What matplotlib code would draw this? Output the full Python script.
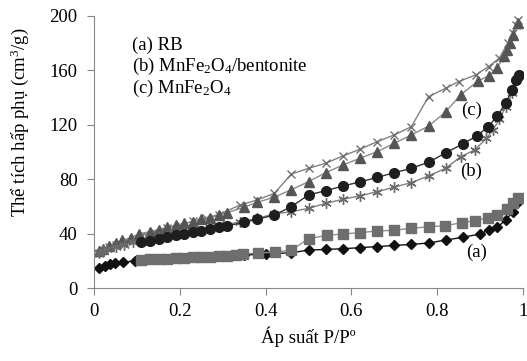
import matplotlib
matplotlib.use('Agg')
import matplotlib.pyplot as plt

plt.rcParams['font.family'] = ['Liberation Serif', 'DejaVu Serif']
plt.rcParams['mathtext.fontset'] = 'custom'
plt.rcParams['mathtext.rm'] = 'Liberation Serif'
plt.rcParams['mathtext.default'] = 'regular'

# (a) RB - adsorption (diamonds) / desorption (squares)
a_ads_p = [0.01, 0.025, 0.036, 0.048, 0.067, 0.095, 0.15, 0.2, 0.25, 0.3, 0.35, 0.4, 0.46, 0.5, 0.54,
           0.58, 0.62, 0.66, 0.70, 0.74, 0.78, 0.82, 0.86, 0.90, 0.92, 0.94, 0.96, 0.977, 0.99]
a_ads_v = [14.5, 16.2, 17.4, 18.1, 18.9, 20.1, 21, 22, 22.8, 23.6, 24.3, 25, 26, 27.9, 28.4,
           28.9, 29.7, 30.5, 31.3, 32.1, 33.1, 35.3, 37.3, 39.7, 42.6, 44.6, 50, 56, 63]
a_des_p = [0.11, 0.13, 0.15, 0.17, 0.19, 0.21, 0.23, 0.25, 0.27, 0.29, 0.31, 0.33, 0.347, 0.382, 0.421,
           0.46, 0.50, 0.543, 0.581, 0.62, 0.66, 0.70, 0.74, 0.78, 0.818, 0.857, 0.888, 0.919, 0.939,
           0.962, 0.977, 0.989]
a_des_v = [20.6, 21, 21.3, 21.6, 21.9, 22.2, 22.5, 22.8, 23.1, 23.4, 23.8, 24.2, 25, 25.8, 26.4,
           27.9, 36.3, 38.8, 39.7, 40.8, 41.9, 42.5, 43.9, 45.1, 45.8, 48, 49.5, 51.7, 53.7,
           57.9, 62.3, 66]

# (b) MnFe2O4/bentonite - adsorption (asterisks) / desorption (circles)
b_ads_p = [0.01, 0.02, 0.03, 0.05, 0.07, 0.09, 0.12, 0.15, 0.18, 0.21, 0.24, 0.27, 0.30, 0.34, 0.38,
           0.42, 0.46, 0.50, 0.54, 0.58, 0.62, 0.66, 0.70, 0.74, 0.78, 0.82, 0.855, 0.888, 0.915, 0.93,
           0.945, 0.96, 0.975, 0.99]
b_ads_v = [26, 27.5, 29, 30.5, 32, 33.5, 35.5, 37.5, 39.5, 41, 42.8, 44.6, 46.3, 48.5, 51.2,
           54.5, 56.1, 58.6, 62.3, 65.2, 67.8, 70.8, 74.2, 77.5, 82.4, 88, 96.5, 101.5, 110, 116,
           124, 133, 143, 155]
b_des_p = [0.11, 0.13, 0.15, 0.17, 0.19, 0.21, 0.23, 0.25, 0.27, 0.29, 0.31, 0.35, 0.38, 0.42, 0.46,
           0.50, 0.54, 0.58, 0.62, 0.66, 0.70, 0.74, 0.78, 0.82, 0.86, 0.893, 0.919, 0.94, 0.96,
           0.975, 0.985, 0.991]
b_des_v = [33.6, 34.6, 35.8, 37.3, 38.7, 39.7, 41, 42.2, 43.4, 44.6, 45.6, 48.5, 50.5, 53.7, 59.8,
           68.5, 71.5, 75, 78, 81.3, 84.8, 88, 92.5, 99.3, 106, 111.8, 118.6, 126.3, 135.8,
           145.6, 152.9, 156.6]

# (c) MnFe2O4 - adsorption (triangles) / desorption (x)
c_ads_p = [0.01, 0.02, 0.035, 0.05, 0.065, 0.085, 0.105, 0.13, 0.15, 0.17, 0.19, 0.21, 0.23, 0.25, 0.27,
           0.29, 0.31, 0.35, 0.38, 0.42, 0.46, 0.50, 0.54, 0.58, 0.62, 0.66, 0.70, 0.74, 0.78, 0.82,
           0.855, 0.895, 0.92, 0.94, 0.956, 0.963, 0.97, 0.977, 0.989]
c_ads_v = [27, 29, 31, 33, 35, 37, 40, 41.4, 43, 44.6, 46.1, 47.6, 48.8, 50.5, 51.7,
           53.4, 55.4, 59.5, 63, 66.8, 72.3, 78.2, 84.8, 90.4, 95.4, 100.2, 106.4, 112.5, 119, 129.5,
           142, 152, 156, 161.5, 170.6, 175, 180, 186, 194.6]
c_des_p = [0.01, 0.02, 0.035, 0.05, 0.07, 0.09, 0.11, 0.14, 0.17, 0.20, 0.23, 0.26, 0.29, 0.34, 0.38,
           0.42, 0.46, 0.50, 0.54, 0.58, 0.62, 0.66, 0.70, 0.74, 0.78, 0.82, 0.85, 0.89, 0.92, 0.945,
           0.965, 0.977, 0.985, 0.99]
c_des_v = [26, 28, 30, 32, 34, 36, 38.5, 41.5, 44, 46.5, 49, 51.5, 54, 61, 64.7,
           69.6, 83.8, 88, 91.7, 97.1, 102, 107.6, 112.5, 118.6, 140.7, 146.8, 151.7, 156.6, 162.7, 168.9,
           180, 187.3, 193.4, 197]

fs = 13.5

fig = plt.figure(figsize=(5.27, 3.61), dpi=100)
ax = fig.add_axes([0.179, 0.202, 0.813, 0.754])

ax.plot(c_des_p, c_des_v, color='#808080', lw=1, marker='x', ms=6, mew=1, mec='#707070')
ax.plot(c_ads_p, c_ads_v, color='#8a8a8a', lw=1, marker='^', ms=7, mfc='#555555', mec='#555555')
ax.plot(b_ads_p, b_ads_v, color='#808080', lw=1, marker=(6, 2, 0), ms=7.5, mew=1, mec='#6a6a6a')
ax.plot(b_des_p, b_des_v, color='#333333', lw=1, marker='o', ms=7, mfc='#1e1e1e', mec='#1e1e1e')
ax.plot(a_ads_p, a_ads_v, color='#111111', lw=1, marker='D', ms=5, mfc='#111111', mec='#111111')
ax.plot(a_des_p, a_des_v, color='#909090', lw=1, marker='s', ms=6.5, mfc='#6e6e6e', mec='#6e6e6e')

ax.set_xlim(0, 1)
ax.set_ylim(0, 200)
ax.set_xticks([0, 0.2, 0.4, 0.6, 0.8, 1])
ax.set_xticklabels(['0', '0.2', '0.4', '0.6', '0.8', '1'])
ax.set_yticks([0, 40, 80, 120, 160, 200])
for s in ['top', 'right']:
    ax.spines[s].set_visible(False)
for s in ['left', 'bottom']:
    ax.spines[s].set_color('#888888')
ax.tick_params(axis='both', direction='out', color='#888888', labelsize=fs)
ax.tick_params(axis='y', length=5, pad=7)
ax.tick_params(axis='x', length=5, pad=6)

ax.set_xlabel('Áp suất P/Pº', fontsize=fs, va='center')
ax.xaxis.set_label_coords(0.5, -0.18)
ax.set_ylabel('Thể tích hấp phụ (cm$^3$/g)', fontsize=fs, va='center')
ax.yaxis.set_label_coords(-0.174, 0.608)

ax.text(0.087, 178.7, '(a) RB', fontsize=fs, va='center')
ax.text(0.087, 162.7, '(b) MnFe$_2$O$_4$/bentonite', fontsize=fs, va='center')
ax.text(0.087, 146.8, '(c) MnFe$_2$O$_4$', fontsize=fs, va='center')

ax.text(0.893, 26.5, '(a)', fontsize=fs, ha='center', va='center')
ax.text(0.880, 85.5, '(b)', fontsize=fs, ha='center', va='center')
ax.text(0.880, 130.9, '(c)', fontsize=fs, ha='center', va='center')

fig.savefig('out.png', dpi=100)
